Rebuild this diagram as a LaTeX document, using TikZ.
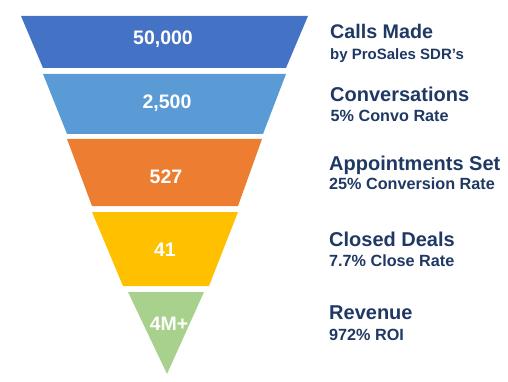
\documentclass[tikz,border=0pt]{standalone}
\usepackage{fontspec}
\setmainfont{Liberation Sans}
\definecolor{bandA}{HTML}{4472C4}
\definecolor{bandB}{HTML}{5B9BD5}
\definecolor{bandC}{HTML}{ED7D31}
\definecolor{bandD}{HTML}{FFC000}
\definecolor{bandE}{HTML}{A9D18E}
\definecolor{navy}{HTML}{1F3864}
\begin{document}
\begin{tikzpicture}[x=1pt,y=-1pt,
  num/.style={anchor=base,text=white,font=\bfseries\fontsize{19.5}{22}\selectfont,inner sep=0pt},
  head/.style={anchor=base west,text=navy,font=\bfseries\fontsize{20}{23}\selectfont,inner sep=0pt},
  sub/.style={anchor=base west,text=navy,font=\bfseries\fontsize{16.2}{18}\selectfont,inner sep=0pt}]
\useasboundingbox (0,0) rectangle (508,382);
% funnel bands
\fill[bandA] (21,16) -- (308,16) -- (286,68) -- (43,68) -- cycle;
\fill[bandB] (43,74) -- (286,74) -- (263,134) -- (67,134) -- cycle;
\fill[bandC] (67,139) -- (262,139) -- (238,206) -- (92,206) -- cycle;
\fill[bandD] (92,212) -- (238,212) -- (209,286) -- (123,286) -- cycle;
\fill[bandE] (128,292) -- (204,292) -- (167,374) -- cycle;
% numbers
\node[num] (n1) at (163,45) {50,000};
\node[num] (n2) at (167,108.3) {2,500};
\node[num] (n3) at (166,183.3) {527};
\node[num] (n4) at (165,256.7) {41};
\node[num] (n5) at (169,330) {4M+};
% labels
\node[head,font=\bfseries\fontsize{19.7}{23}\selectfont] (h1) at (330,38.3) {Calls Made};
\node[sub,font=\bfseries\fontsize{15}{18}\selectfont]  (s1) at (330,59.3) {by ProSales SDR’s};
\node[head] (h2) at (330,101.7) {Conversations};
\node[sub]  (s2) at (330.5,121.7) {5\% Convo Rate};
\node[head] (h3) at (329,170.5) {Appointments Set};
\node[sub]  (s3) at (329,189.5) {25\% Conversion Rate};
\node[head] (h4) at (329,246) {Closed Deals};
\node[sub]  (s4) at (329,266.7) {7.7\% Close Rate};
\node[head] (h5) at (329,319.3) {Revenue};
\node[sub]  (s5) at (329,340.7) {972\% ROI};
\end{tikzpicture}
\end{document}
